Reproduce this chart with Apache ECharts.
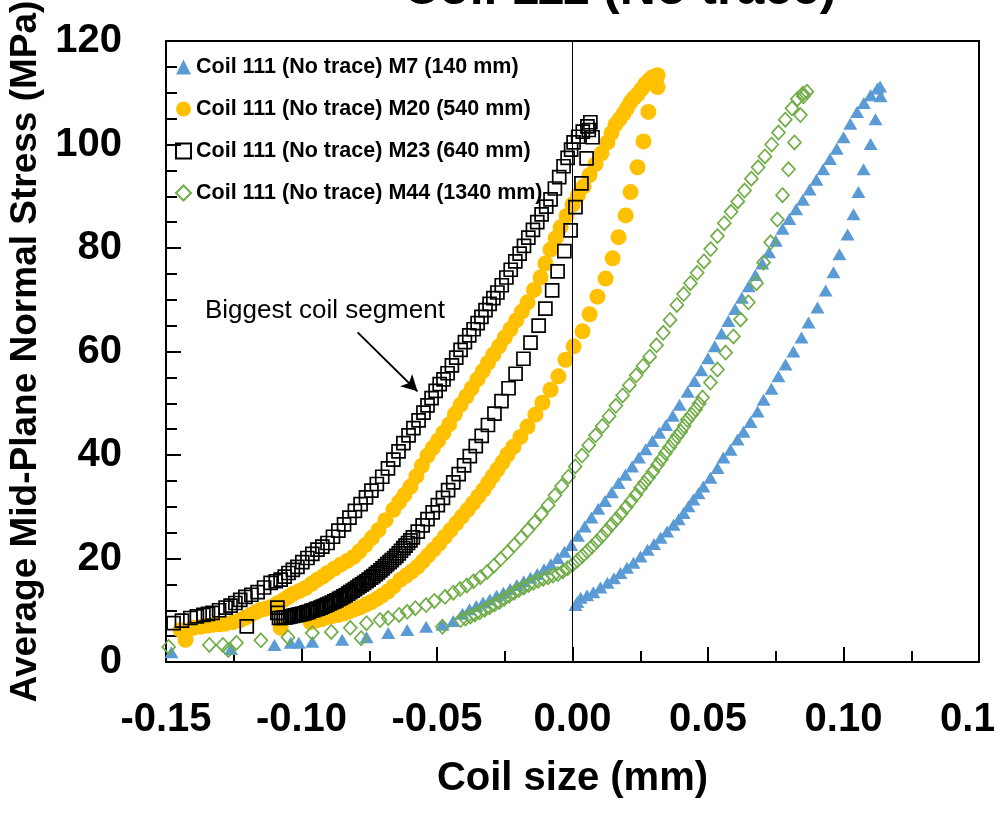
<!DOCTYPE html>
<html>
<head>
<meta charset="utf-8">
<script src="https://cdn.jsdelivr.net/npm/echarts@6.0.0/dist/echarts.min.js"></script>
<style>
    html, body { margin: 0; padding: 0; background: #fff; }
    #chart { width: 994px; height: 813px; }
</style>
</head>
<body>
<div id="chart"></div>
<script>
// series names (legend order)
const seriesNames = [
    'Coil 111 (No trace) M7 (140 mm)',
    'Coil 111 (No trace) M20 (540 mm)',
    'Coil 111 (No trace) M23 (640 mm)',
    'Coil 111 (No trace) M44 (1340 mm)'
];

// M7 - left branch [coil size mm, stress MPa]
const m7Left = [
    [-0.148, 1.9], [-0.126, 2.5], [-0.110, 3.3], [-0.104, 3.7], [-0.101, 3.7], [-0.096, 3.9],
    [-0.085, 4.3], [-0.076, 4.8], [-0.068, 5.6], [-0.061, 6.2], [-0.054, 6.8], [-0.048, 7.2], [-0.044, 7.9],
    [-0.0406, 9.3], [-0.038, 10.2], [-0.0355, 10.8], [-0.033, 11.5], [-0.0305, 12.1], [-0.028, 12.8],
    [-0.0255, 13.4], [-0.023, 14.1], [-0.0205, 14.9], [-0.018, 15.6], [-0.0155, 16.3], [-0.013, 17.0],
    [-0.0105, 17.9], [-0.008, 18.9], [-0.0055, 20.1], [-0.003, 21.3], [-0.0005, 22.6], [0.002, 24.4],
    [0.0045, 26.2], [0.007, 27.9], [0.0095, 29.6], [0.012, 31.1], [0.0145, 32.8], [0.017, 34.6],
    [0.0195, 36.2], [0.022, 37.8], [0.0245, 39.5], [0.027, 41.1], [0.0295, 42.7], [0.032, 44.3],
    [0.0345, 45.8], [0.037, 47.6], [0.0395, 49.7], [0.0425, 52.2], [0.045, 54.3], [0.0475, 56.4],
    [0.050, 58.7], [0.0525, 61.0], [0.055, 63.5], [0.0575, 65.9], [0.060, 68.2], [0.0625, 70.4],
    [0.065, 72.6], [0.0675, 74.8], [0.070, 77.0], [0.0725, 79.2], [0.075, 81.4], [0.0775, 83.7],
    [0.080, 85.6], [0.0825, 87.5], [0.085, 89.3], [0.0875, 91.3], [0.090, 93.2], [0.0925, 95.2],
    [0.095, 97.2], [0.0975, 99.2], [0.100, 101.4], [0.1025, 104.0], [0.105, 106.3], [0.1075, 108.0],
    [0.110, 109.5], [0.1125, 110.8], [0.1135, 111.2]
];
// M7 - right branch
const m7Right = [
    [0.1137, 109.3], [0.1118, 104.9], [0.1100, 100.1], [0.1074, 95.2], [0.1055, 90.8], [0.1037, 86.5],
    [0.1015, 82.6], [0.0985, 78.8], [0.0963, 75.3], [0.0934, 71.8], [0.0904, 68.5], [0.0871, 65.6],
    [0.0845, 62.7], [0.0815, 60.0], [0.0786, 57.5], [0.0760, 55.2], [0.0734, 52.8], [0.0705, 50.7],
    [0.0683, 48.4], [0.0657, 46.4], [0.0631, 44.5], [0.0609, 43.0], [0.0583, 41.0], [0.0557, 39.5],
    [0.0535, 37.5], [0.0509, 35.6], [0.0483, 33.9], [0.0465, 32.6], [0.0446, 31.4], [0.0428, 30.1],
    [0.0410, 28.8], [0.0392, 27.6], [0.0373, 26.5], [0.0349, 25.2], [0.0325, 24.0], [0.0301, 22.8],
    [0.0277, 21.7], [0.0251, 20.4], [0.0225, 19.2], [0.0201, 18.2], [0.0177, 17.2], [0.0153, 16.2],
    [0.0129, 15.3], [0.0103, 14.4], [0.0077, 13.5], [0.0054, 12.9], [0.0030, 12.4], [0.0018, 11.6],
    [0.0011, 11.0]
];

// M20 - left branch
const m20Left = [
    [-0.1446, 6.2], [-0.1428, 4.3], [-0.1399, 6.6], [-0.1373, 6.8], [-0.1349, 7.0], [-0.1325, 7.2],
    [-0.1302, 7.3], [-0.1280, 7.4], [-0.1252, 7.7], [-0.1225, 8.1], [-0.1206, 8.6], [-0.1188, 9.1],
    [-0.1170, 9.6], [-0.1151, 10.1], [-0.1132, 10.3], [-0.1114, 10.6], [-0.1090, 11.3], [-0.1066, 12.0],
    [-0.1048, 12.6], [-0.1030, 13.2], [-0.1008, 13.7], [-0.0985, 14.3], [-0.0963, 15.1], [-0.0941, 15.9],
    [-0.0922, 16.5], [-0.0904, 17.2], [-0.0880, 18.0], [-0.0856, 18.8], [-0.0832, 19.5], [-0.0808, 20.3],
    [-0.0786, 21.4], [-0.0764, 22.6], [-0.0740, 24.0], [-0.0716, 25.5], [-0.0690, 27.4], [-0.0661, 29.4],
    [-0.0640, 30.9], [-0.0620, 32.3], [-0.0598, 33.9], [-0.0576, 35.9], [-0.0556, 37.9], [-0.0535, 39.9],
    [-0.0515, 41.4], [-0.0496, 42.8], [-0.0476, 44.3], [-0.0455, 45.9], [-0.0434, 47.9], [-0.0413, 49.7],
    [-0.0392, 51.3], [-0.0372, 52.9], [-0.0351, 54.6], [-0.0331, 56.2], [-0.0312, 57.8], [-0.0292, 59.4],
    [-0.0271, 61.0], [-0.0250, 62.7], [-0.0229, 64.3], [-0.0208, 66.0], [-0.0187, 67.7], [-0.0166, 69.5],
    [-0.0142, 71.9], [-0.0118, 74.3], [-0.0100, 77.0], [-0.0081, 79.7], [-0.0062, 81.9], [-0.0044, 84.0],
    [-0.0022, 86.2], [0.0000, 88.4], [0.0020, 90.2], [0.0041, 91.9], [0.0063, 94.1], [0.0085, 96.2],
    [0.0107, 98.3], [0.0129, 100.4], [0.0144, 102.2], [0.0159, 103.9], [0.0174, 104.9], [0.0188, 105.9],
    [0.0201, 107.0], [0.0214, 108.2], [0.0227, 109.0], [0.0240, 109.7], [0.0255, 110.7], [0.0269, 111.7],
    [0.0282, 112.4], [0.0295, 113.0], [0.0314, 113.4], [0.0308, 112.5]
];
// M20 - right branch
const m20Right = [
    [0.0314, 111.1], [0.0280, 106.3], [0.0262, 100.6], [0.0240, 95.6], [0.0214, 90.8], [0.0196, 86.3],
    [0.0170, 82.1], [0.0148, 78.0], [0.0122, 74.1], [0.0092, 70.6], [0.0063, 67.2], [0.0037, 63.9],
    [0.0004, 61.0], [-0.0026, 58.4], [-0.0052, 55.2], [-0.0081, 52.6], [-0.0111, 50.1], [-0.0137, 47.8],
    [-0.0166, 45.5], [-0.0192, 43.5], [-0.0218, 41.6], [-0.0240, 40.1], [-0.0258, 38.6], [-0.0277, 37.2],
    [-0.0294, 35.9], [-0.0311, 34.6], [-0.0328, 33.3], [-0.0348, 32.0], [-0.0367, 30.7], [-0.0387, 29.4],
    [-0.0408, 28.1], [-0.0429, 26.8], [-0.0450, 25.5], [-0.0471, 24.2], [-0.0492, 22.9], [-0.0513, 21.7],
    [-0.0533, 20.6], [-0.0552, 19.5], [-0.0572, 18.4], [-0.0593, 17.5], [-0.0614, 16.7], [-0.0635, 15.9],
    [-0.0661, 14.6], [-0.0682, 13.6], [-0.0702, 12.9], [-0.0722, 12.2], [-0.0742, 11.6], [-0.0762, 11.1],
    [-0.0782, 10.6], [-0.0802, 10.2], [-0.0823, 9.8], [-0.0843, 9.4], [-0.0863, 9.1], [-0.0884, 8.9],
    [-0.0904, 8.7], [-0.0925, 8.3], [-0.0946, 8.0], [-0.0967, 7.7], [-0.1077, 6.6]
];

// M23 - left branch
const m23Left = [
    [-0.1472, 7.5], [-0.1441, 8.0], [-0.1410, 8.5], [-0.1386, 8.8], [-0.1362, 9.1], [-0.1345, 9.3],
    [-0.1328, 9.5], [-0.1304, 10.0], [-0.1280, 10.5], [-0.1262, 10.9], [-0.1244, 11.4], [-0.1226, 12.0],
    [-0.1207, 12.6], [-0.1185, 13.0], [-0.1162, 13.5], [-0.1138, 14.4], [-0.1114, 15.3], [-0.1095, 15.6],
    [-0.1077, 15.9], [-0.1062, 16.5], [-0.1048, 17.2], [-0.1032, 17.8], [-0.1015, 18.4], [-0.0997, 19.3],
    [-0.0978, 20.1], [-0.0960, 20.9], [-0.0941, 21.7], [-0.0923, 22.3], [-0.0904, 23.0], [-0.0884, 24.2],
    [-0.0864, 25.4], [-0.0843, 26.6], [-0.0823, 27.9], [-0.0803, 29.2], [-0.0782, 30.5], [-0.0762, 31.8],
    [-0.0742, 33.1], [-0.0722, 34.4], [-0.0702, 35.8], [-0.0681, 37.4], [-0.0661, 39.1], [-0.0642, 40.7],
    [-0.0624, 42.3], [-0.0605, 43.8], [-0.0587, 45.2], [-0.0568, 46.7], [-0.0550, 48.2], [-0.0535, 49.6],
    [-0.0520, 51.0], [-0.0505, 52.4], [-0.0490, 53.7], [-0.0476, 54.6], [-0.0461, 55.8], [-0.0445, 57.3],
    [-0.0429, 58.8], [-0.0413, 60.3], [-0.0397, 61.8], [-0.0381, 63.1], [-0.0365, 64.3], [-0.0350, 65.5],
    [-0.0336, 66.7], [-0.0321, 68.0], [-0.0306, 69.2], [-0.0292, 70.3], [-0.0277, 71.4], [-0.0261, 72.8],
    [-0.0244, 74.3], [-0.0228, 75.8], [-0.0211, 77.4], [-0.0195, 78.9], [-0.0179, 80.4], [-0.0163, 82.0],
    [-0.0146, 83.5], [-0.0130, 85.0], [-0.0114, 86.5], [-0.0097, 88.0], [-0.0081, 89.4], [-0.0065, 91.5],
    [-0.0049, 93.7], [-0.0033, 95.8], [-0.0018, 97.4], [-0.0005, 99.0], [0.0004, 100.4], [0.0021, 101.5],
    [0.0038, 102.5], [0.0055, 103.5], [0.0066, 104.3], [0.0060, 102.8]
];
// M23 - right branch
const m23Right = [
    [0.0074, 101.4], [0.0052, 97.3], [0.0033, 92.5], [0.0011, 87.9], [-0.0007, 83.4], [-0.0030, 79.4],
    [-0.0055, 75.5], [-0.0075, 71.8], [-0.0100, 68.3], [-0.0125, 65.0], [-0.0155, 61.7], [-0.0181, 58.6],
    [-0.0210, 55.7], [-0.0236, 52.9], [-0.0262, 50.4], [-0.0288, 48.0], [-0.0312, 45.8], [-0.0335, 43.7],
    [-0.0357, 41.7], [-0.0379, 39.8], [-0.0400, 38.0], [-0.0420, 36.3], [-0.0440, 34.7], [-0.0459, 33.2],
    [-0.0478, 31.7], [-0.0497, 30.3], [-0.0516, 28.9], [-0.0535, 27.6], [-0.0553, 26.4], [-0.0571, 25.2],
    [-0.0589, 24.1], [-0.0607, 23.0], [-0.0624, 22.0], [-0.0641, 21.0], [-0.0658, 20.1], [-0.0675, 19.3],
    [-0.0692, 18.5], [-0.0709, 17.7], [-0.0726, 17.0], [-0.0743, 16.3], [-0.0760, 15.6], [-0.0777, 15.0],
    [-0.0794, 14.4], [-0.0811, 13.8], [-0.0828, 13.2], [-0.0845, 12.7], [-0.0862, 12.2], [-0.0879, 11.7],
    [-0.0896, 11.3], [-0.0913, 10.9], [-0.0930, 10.5], [-0.0947, 10.2], [-0.0964, 9.9], [-0.0981, 9.6],
    [-0.0998, 9.3], [-0.1015, 9.1], [-0.1032, 8.9], [-0.1049, 8.7], [-0.1066, 8.6], [-0.1083, 8.5],
    [-0.1089, 9.5], [-0.1089, 10.5], [-0.1202, 6.9],
    [-0.0598, 23.5], [-0.0616, 22.5], [-0.0633, 21.5], [-0.0650, 20.5], [-0.0667, 19.7], [-0.0684, 18.9],
    [-0.0701, 18.1], [-0.0718, 17.3], [-0.0735, 16.6], [-0.0752, 15.9], [-0.0769, 15.3], [-0.0786, 14.7],
    [-0.0803, 14.1], [-0.0820, 13.5], [-0.0837, 12.9], [-0.0854, 12.4], [-0.0871, 11.9], [-0.0888, 11.5],
    [-0.0905, 11.1], [-0.0922, 10.7], [-0.0939, 10.3], [-0.0956, 10.0], [-0.0973, 9.7], [-0.0990, 9.4],
    [-0.1007, 9.2], [-0.1024, 9.0], [-0.1041, 8.8], [-0.1058, 8.6], [-0.1075, 8.5]
];

// M44 - left branch
const m44Left = [
    [-0.149, 2.9], [-0.134, 3.3], [-0.129, 3.3], [-0.127, 2.3], [-0.124, 3.7], [-0.115, 4.2],
    [-0.105, 4.8], [-0.096, 5.6], [-0.089, 5.8], [-0.082, 6.6], [-0.078, 4.6], [-0.076, 7.5],
    [-0.071, 8.1], [-0.068, 8.5], [-0.064, 9.1], [-0.061, 9.7], [-0.058, 10.4], [-0.054, 11.0],
    [-0.051, 11.8], [-0.048, 6.8], [-0.047, 12.6], [-0.044, 13.4], [-0.0415, 14.1], [-0.039, 14.8],
    [-0.0365, 15.6], [-0.034, 16.4], [-0.0315, 17.4], [-0.029, 18.6], [-0.0265, 19.9], [-0.024, 21.2],
    [-0.0215, 22.6], [-0.019, 24.0], [-0.0165, 25.5], [-0.014, 27.0], [-0.0115, 28.6], [-0.009, 30.3],
    [-0.0065, 32.2], [-0.004, 34.0], [-0.0015, 35.8], [0.001, 37.8], [0.0035, 39.9], [0.006, 41.9],
    [0.0085, 43.8], [0.011, 45.6], [0.0135, 47.5], [0.016, 49.5], [0.0185, 51.5], [0.021, 53.5],
    [0.0235, 55.4], [0.026, 57.2], [0.0285, 59.0], [0.031, 61.2], [0.0335, 63.6], [0.036, 66.1],
    [0.0385, 69.0], [0.041, 71.1], [0.0435, 73.2], [0.046, 75.2], [0.0485, 77.4], [0.051, 79.8],
    [0.0535, 82.3], [0.056, 84.8], [0.0585, 87.0], [0.061, 89.0], [0.0635, 91.1], [0.066, 93.4],
    [0.0685, 95.6], [0.071, 97.7], [0.0735, 100.0], [0.076, 102.3], [0.0785, 104.8], [0.081, 107.0],
    [0.083, 108.8], [0.085, 109.8], [0.0865, 110.2]
];
// M44 - right branch
const m44Right = [
    [-0.0413, 8.1], [-0.0395, 8.4], [-0.0377, 8.8], [-0.036, 9.2], [-0.0342, 9.6], [-0.0324, 10.1],
    [-0.0306, 10.6], [-0.0288, 11.1], [-0.027, 11.6], [-0.0252, 12.2], [-0.0234, 12.8], [-0.0216, 13.4],
    [-0.0198, 13.9], [-0.018, 14.4], [-0.0162, 14.9], [-0.0144, 15.3], [-0.0126, 15.7], [-0.0108, 16.1],
    [-0.009, 16.4], [-0.0072, 16.7], [-0.0054, 17.0], [-0.0036, 17.5], [-0.0018, 18.1], [0.0, 18.8],
    [0.0018, 19.6], [0.0036, 20.5], [0.0054, 21.4], [0.0072, 22.3], [0.009, 23.3], [0.0108, 24.3],
    [0.0126, 25.4], [0.0144, 26.5], [0.0162, 27.6], [0.018, 28.7], [0.0198, 29.9], [0.0216, 31.1],
    [0.0234, 32.3], [0.0251, 33.6], [0.0265, 34.6], [0.028, 35.6], [0.0297, 36.8], [0.0314, 38.1],
    [0.0328, 39.2], [0.0343, 40.4], [0.0358, 41.5], [0.0373, 42.6], [0.0386, 43.6], [0.0399, 44.5],
    [0.0412, 45.6], [0.0424, 46.8], [0.0439, 47.8], [0.0454, 48.8], [0.0467, 49.9], [0.0480, 51.1],
    [0.0509, 54.0], [0.0535, 56.5], [0.0565, 59.8], [0.0594, 62.9], [0.0620, 66.2], [0.0649, 69.5],
    [0.0679, 73.2], [0.0705, 77.2], [0.0731, 81.1], [0.0756, 85.5], [0.0775, 90.2], [0.0797, 95.2],
    [0.0819, 100.4], [0.0841, 105.7], [0.0852, 109.3]
];

// annotation arrow (data coords)
const arrowFrom = [-0.0793, 63.7];
const arrowTo = [-0.0572, 52.3];

const FONT = 'Liberation Sans, Arial, sans-serif';

const chart = echarts.init(document.getElementById('chart'));

const option = {
    backgroundColor: '#fff',
    animation: false,
    title: {
        text: 'Coil 111 (No trace)',
        left: 403,
        top: -35,
        padding: 0,
        textStyle: { fontFamily: FONT, fontSize: 50, fontWeight: 'bold', color: '#000' }
    },
    legend: {
        orient: 'vertical',
        left: 175,
        top: 56,
        padding: 0,
        itemGap: 20,
        itemWidth: 15,
        itemHeight: 15,
        data: seriesNames,
        textStyle: { fontFamily: FONT, fontSize: 21.5, fontWeight: 'bold', color: '#000' }
    },
    grid: {
        left: 166,
        right: 15,
        top: 41,
        bottom: 151,
        outerBoundsMode: 'none',
        show: true,
        borderColor: '#000',
        borderWidth: 2
    },
    xAxis: {
        type: 'value',
        min: -0.15,
        max: 0.15,
        interval: 0.05,
        name: 'Coil size (mm)',
        nameLocation: 'middle',
        nameGap: 97,
        nameTextStyle: { fontFamily: FONT, fontSize: 40, fontWeight: 'bold', color: '#000' },
        axisLine: { onZero: false, lineStyle: { color: '#000', width: 2 } },
        axisTick: { inside: true, length: 15, lineStyle: { color: '#000', width: 2 } },
        minorTick: { show: true, splitNumber: 2, length: 11, lineStyle: { color: '#000', width: 2 } },
        splitLine: { show: false },
        axisLabel: {
            showMinLabel: true,
            showMaxLabel: true,
            hideOverlap: false,
            margin: 38,
            fontFamily: FONT,
            fontSize: 40,
            fontWeight: 'bold',
            color: '#000',
            formatter: v => (Math.abs(v) < 1e-9 ? 0 : v).toFixed(2)
        }
    },
    yAxis: {
        type: 'value',
        min: 0,
        max: 120,
        interval: 20,
        name: 'Average Mid-Plane Normal Stress (MPa)',
        nameLocation: 'middle',
        nameGap: 116,
        nameTextStyle: { fontFamily: FONT, fontSize: 37, fontWeight: 'bold', color: '#000' },
        axisLine: { show: true, onZero: false, lineStyle: { color: '#000', width: 2 } },
        axisTick: { inside: true, length: 15, lineStyle: { color: '#000', width: 2 } },
        minorTick: { show: true, splitNumber: 4, length: 11, lineStyle: { color: '#000', width: 2 } },
        splitLine: { show: false },
        axisLabel: {
            margin: 44,
            fontFamily: FONT,
            fontSize: 40,
            fontWeight: 'bold',
            color: '#000'
        }
    },
    graphic: [{
        type: 'text',
        left: 205,
        top: 298,
        style: { text: 'Biggest coil segment', font: '26px "Liberation Sans", Arial, sans-serif', fill: '#000' }
    }],
    series: [
        {
            name: seriesNames[0],
            type: 'scatter',
            symbol: 'triangle',
            symbolSize: [14, 12],
            itemStyle: { color: '#5B9BD5', opacity: 1 },
            data: m7Left.concat(m7Right)
        },
        {
            name: seriesNames[1],
            type: 'scatter',
            symbol: 'circle',
            symbolSize: 16,
            itemStyle: { color: '#FFC000', opacity: 1 },
            data: m20Left.concat(m20Right)
        },
        {
            name: seriesNames[2],
            type: 'scatter',
            symbol: 'rect',
            symbolSize: 13,
            itemStyle: { color: 'rgba(255,255,255,0)', borderColor: '#000', borderWidth: 1.7, opacity: 1 },
            data: m23Left.concat(m23Right),
            markLine: {
                silent: true,
                symbol: ['none', 'arrow'],
                symbolSize: [13, 16],
                label: { show: false },
                lineStyle: { color: '#000', width: 2, type: 'solid' },
                data: [[{ coord: arrowFrom }, { coord: arrowTo }]]
            }
        },
        {
            name: seriesNames[3],
            type: 'scatter',
            symbol: 'diamond',
            symbolSize: [13, 14],
            itemStyle: { color: 'rgba(255,255,255,0)', borderColor: '#70AD47', borderWidth: 1.7, opacity: 1 },
            data: m44Left.concat(m44Right),
            markLine: {
                silent: true,
                symbol: 'none',
                label: { show: false },
                lineStyle: { color: '#000', width: 1, type: 'solid' },
                data: [{ xAxis: 0 }]
            }
        }
    ]
};

chart.setOption(option);

window.addEventListener('resize', () => {
    chart && chart.resize();
});
</script>
</body>
</html>
